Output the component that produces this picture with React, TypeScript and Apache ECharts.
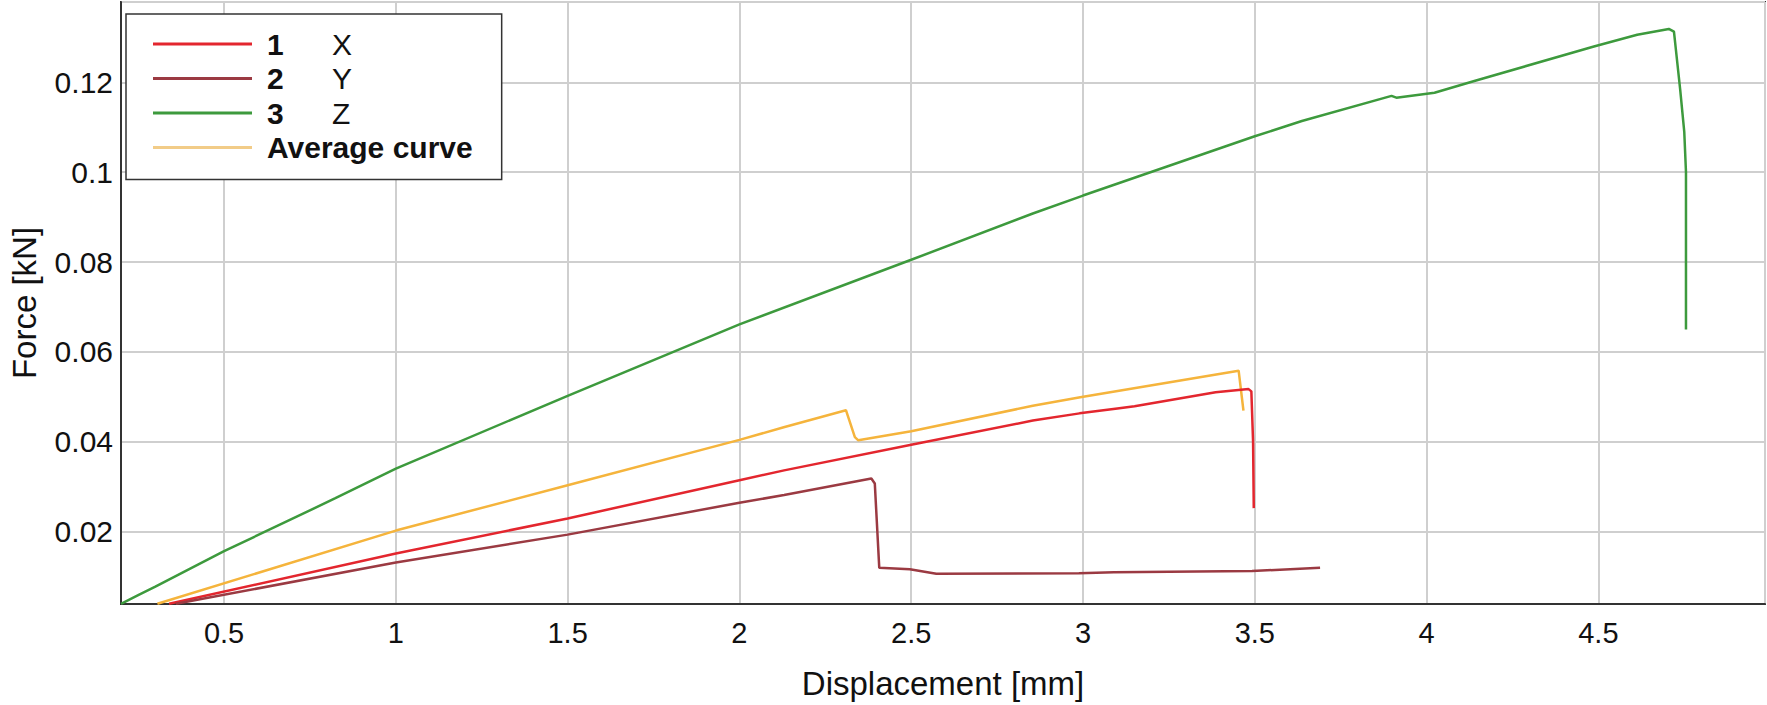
import React, { useEffect, useRef } from "react";
import * as echarts from "echarts";

// Displacement [mm], Force [kN]
const series1: [number, number][] = [
  [0.34, 0.0039], [1.0, 0.0151], [1.5, 0.0229], [2.0, 0.0314],
  [2.13, 0.0336], [2.5, 0.0393], [2.854, 0.0447], [2.99, 0.0463], [3.1, 0.0474],
  [3.15, 0.0479], [3.386, 0.051], [3.482, 0.0517], [3.49, 0.0512], [3.495, 0.040],
  [3.497, 0.0252],
];
const series2: [number, number][] = [
  [0.36, 0.0039], [1.0, 0.0131], [1.5, 0.0193], [2.0, 0.0264], [2.13, 0.0281],
  [2.384, 0.0318], [2.394, 0.0307], [2.407, 0.0119], [2.496, 0.0116], [2.573, 0.0106],
  [2.988, 0.0107], [3.09, 0.0109], [3.492, 0.0112], [3.69, 0.0119],
];
const series3: [number, number][] = [
  [0.2, 0.0039], [0.25, 0.0058], [0.3, 0.0077], [0.5, 0.0156], [0.824, 0.0274],
  [1.0, 0.034], [1.5, 0.0502], [2.0, 0.0661], [2.5, 0.0805], [2.854, 0.0908],
  [3.0, 0.0948], [3.5, 0.108], [3.637, 0.1114], [3.898, 0.117], [3.912, 0.1166],
  [4.023, 0.1177], [4.139, 0.1203], [4.487, 0.128], [4.613, 0.1306], [4.705, 0.1319],
  [4.72, 0.1313], [4.738, 0.1185], [4.75, 0.109], [4.755, 0.1], [4.755, 0.065],
];
const averageCurve: [number, number][] = [
  [0.306, 0.0039], [1.0, 0.0202], [1.5, 0.0303], [2.0, 0.0404], [2.129, 0.0432],
  [2.31, 0.047], [2.336, 0.041], [2.346, 0.0403], [2.5, 0.0423], [2.854, 0.048],
  [2.992, 0.0499], [3.453, 0.0558], [3.467, 0.0469],
];

const seriesNames = ["1", "2", "3", "Average curve"];
const seriesTags: Record<string, string> = { "1": "X", "2": "Y", "3": "Z" };
const xTitle = "Displacement [mm]";
const yTitle = "Force [kN]";

const FONT = '"Liberation Sans", Arial, sans-serif';

export default function App() {
  const ref = useRef<HTMLDivElement>(null);
  useEffect(() => {
    document.body.style.margin = "0";
    const chart = echarts.init(ref.current!, undefined, { renderer: "svg" });
    const colors = ["#e3262e", "#9b3a42", "#3d9a3d", "#f5b43c"];
    const datas = [series1, series2, series3, averageCurve];
    chart.setOption({
      animation: false,
      backgroundColor: "#fff",
      textStyle: { fontFamily: FONT },
      grid: {
        left: 115, right: 2, top: 2, bottom: 97,
        show: true, borderColor: "#333", borderWidth: 2, backgroundColor: "transparent",
      },
      legend: {
        orient: "vertical",
        left: 126,
        top: 14,
        padding: [15, 29, 17, 27],
        borderColor: "#333",
        borderWidth: 1.5,
        borderRadius: 0,
        backgroundColor: "#fff",
        itemGap: 4.5,
        itemWidth: 99,
        itemHeight: 3,
        icon: "rect",
        data: seriesNames.map((n, i) => ({
          name: n,
          itemStyle: { color: i === 3 ? "#f2cc88" : colors[i] },
        })),
        formatter: (name: string) =>
          seriesTags[name] ? `{b|${name}}{n|${seriesTags[name]}}` : `{a|${name}}`,
        textStyle: {
          fontFamily: FONT,
          fontSize: 30,
          lineHeight: 30,
          rich: {
            b: { fontWeight: "bold", fontSize: 30, width: 65, padding: [0, 0, 0, 10], lineHeight: 30, color: "#111", fontFamily: FONT },
            n: { fontSize: 30, lineHeight: 30, color: "#111", fontFamily: FONT },
            a: { fontWeight: "bold", fontSize: 30, padding: [0, 0, 0, 10], lineHeight: 30, color: "#111", fontFamily: FONT },
          },
        },
      },
      xAxis: {
        type: "value",
        min: 0.2,
        max: 4.985,
        splitNumber: 10,
        name: xTitle,
        nameLocation: "middle",
        nameGap: 63,
        nameTextStyle: { fontSize: 33, color: "#111", fontFamily: FONT },
        axisLine: { show: true, lineStyle: { color: "#333", width: 2 } },
        axisTick: { show: false },
        splitLine: { show: true, lineStyle: { color: "#cfcfcf", width: 2 } },
        axisLabel: { fontSize: 29, color: "#111", margin: 14, showMinLabel: false, showMaxLabel: false, fontFamily: FONT },
      },
      yAxis: {
        type: "value",
        min: 0.00385,
        max: 0.1379,
        splitNumber: 7,
        name: yTitle,
        nameLocation: "middle",
        nameRotate: 90,
        nameGap: 80,
        nameTextStyle: { fontSize: 33, color: "#111", fontFamily: FONT },
        axisLine: { show: true, lineStyle: { color: "#333", width: 2 } },
        axisTick: { show: false },
        splitLine: { show: true, lineStyle: { color: "#cfcfcf", width: 2 } },
        axisLabel: { fontSize: 30, color: "#111", margin: 8, showMinLabel: false, showMaxLabel: false, fontFamily: FONT },
      },
      series: seriesNames.map((n, i) => ({
        name: n,
        type: "line",
        data: datas[i],
        showSymbol: false,
        symbol: "none",
        color: colors[i],
        lineStyle: { color: colors[i], width: 2.5 },
        z: i === 3 ? 2 : 3,
      })),
    });
    return () => chart.dispose();
  }, []);
  return <div ref={ref} style={{ width: 1767, height: 705, position: "fixed", left: 0, top: 0 }} />;
}
